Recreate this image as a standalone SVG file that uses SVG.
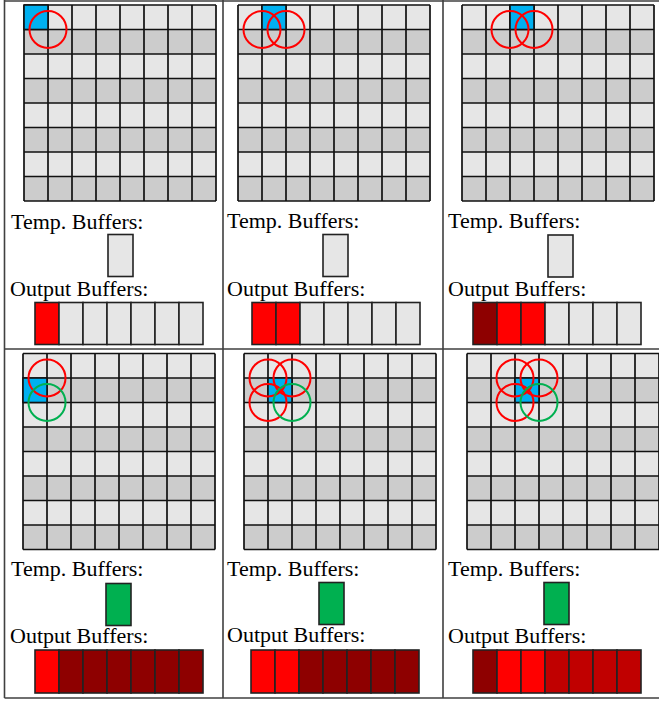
<svg xmlns="http://www.w3.org/2000/svg" xmlns:xlink="http://www.w3.org/1999/xlink" width="659" height="703" viewBox="0 0 659 703">
<style>
.lbl{font-family:"Liberation Serif","Times New Roman",serif;font-size:22px;fill:#000}
.frame{stroke:#404040;stroke-width:1.6;fill:none}
.blue{fill:#00b0f0;stroke:#111;stroke-width:1.6}
.rc{fill:none;stroke:#ff0000;stroke-width:2}
.gc{fill:none;stroke:#00b050;stroke-width:2}
.buf{stroke:#222;stroke-width:1.6}
.g{fill:#e6e6e6}
.r{fill:#ff0000}
.d{fill:#8e0000}
.m{fill:#c00000}
.gr{fill:#00b050}
</style>
<defs>
<g id="grid">
<rect x="0" y="0" width="192" height="24.5" fill="#e6e6e6"/>
<rect x="0" y="24.5" width="192" height="24.5" fill="#cccccc"/>
<rect x="0" y="49" width="192" height="24.5" fill="#e6e6e6"/>
<rect x="0" y="73.5" width="192" height="24.5" fill="#cccccc"/>
<rect x="0" y="98" width="192" height="24.5" fill="#e6e6e6"/>
<rect x="0" y="122.5" width="192" height="24.5" fill="#cccccc"/>
<rect x="0" y="147" width="192" height="24.5" fill="#e6e6e6"/>
<rect x="0" y="171.5" width="192" height="24.5" fill="#cccccc"/>
<path d="M0 0V196M24 0V196M48 0V196M72 0V196M96 0V196M120 0V196M144 0V196M168 0V196M192 0V196M0 0H192M0 24.5H192M0 49H192M0 73.5H192M0 98H192M0 122.5H192M0 147H192M0 171.5H192M0 196H192" stroke="#111" stroke-width="1.7" fill="none"/>
</g>
</defs>

<g id="frame">
<path class="frame" d="M4.5 1H659" stroke="#aaaaaa"/>
<path class="frame" d="M4.5 0V698M223 0V698M443 0V698M4.5 349H659M4.5 698H659"/>
</g>

<g id="panel-top-left">
<use href="#grid" x="24" y="5"/>
<rect class="blue" x="24" y="5" width="24" height="24.5"/>
<circle class="rc" cx="48" cy="29.5" r="18.5"/>
<text class="lbl" x="11" y="229">Temp. Buffers:</text>
<rect class="buf g" x="108" y="234.5" width="25" height="42"/>
<text class="lbl" x="10" y="296">Output Buffers:</text>
<g class="buf">
<rect class="r" x="35" y="302.5" width="24" height="42"/>
<rect class="g" x="59" y="302.5" width="24" height="42"/>
<rect class="g" x="83" y="302.5" width="24" height="42"/>
<rect class="g" x="107" y="302.5" width="24" height="42"/>
<rect class="g" x="131" y="302.5" width="24" height="42"/>
<rect class="g" x="155" y="302.5" width="24" height="42"/>
<rect class="g" x="179" y="302.5" width="24" height="42"/>
</g>
</g>

<g id="panel-top-middle">
<use href="#grid" x="238" y="5"/>
<rect class="blue" x="262" y="5" width="24" height="24.5"/>
<circle class="rc" cx="262" cy="29.5" r="18.5"/>
<circle class="rc" cx="286" cy="29.5" r="18.5"/>
<text class="lbl" x="227" y="228">Temp. Buffers:</text>
<rect class="buf g" x="323" y="234.5" width="25" height="42"/>
<text class="lbl" x="227" y="296">Output Buffers:</text>
<g class="buf">
<rect class="r" x="252" y="302.5" width="24" height="42"/>
<rect class="r" x="276" y="302.5" width="24" height="42"/>
<rect class="g" x="300" y="302.5" width="24" height="42"/>
<rect class="g" x="324" y="302.5" width="24" height="42"/>
<rect class="g" x="348" y="302.5" width="24" height="42"/>
<rect class="g" x="372" y="302.5" width="24" height="42"/>
<rect class="g" x="396" y="302.5" width="24" height="42"/>
</g>
</g>

<g id="panel-top-right">
<use href="#grid" x="462" y="5"/>
<rect class="blue" x="510" y="5" width="24" height="24.5"/>
<circle class="rc" cx="510" cy="29.5" r="18.5"/>
<circle class="rc" cx="534" cy="29.5" r="18.5"/>
<text class="lbl" x="448" y="228">Temp. Buffers:</text>
<rect class="buf g" x="548" y="235" width="25" height="42"/>
<text class="lbl" x="448" y="296">Output Buffers:</text>
<g class="buf">
<rect class="d" x="473" y="302.5" width="24" height="42"/>
<rect class="r" x="497" y="302.5" width="24" height="42"/>
<rect class="r" x="521" y="302.5" width="24" height="42"/>
<rect class="g" x="545" y="302.5" width="24" height="42"/>
<rect class="g" x="569" y="302.5" width="24" height="42"/>
<rect class="g" x="593" y="302.5" width="24" height="42"/>
<rect class="g" x="617" y="302.5" width="24" height="42"/>
</g>
</g>

<g id="panel-bottom-left">
<use href="#grid" x="23" y="353.5"/>
<rect class="blue" x="23" y="378" width="24" height="24.5"/>
<circle class="rc" cx="47" cy="378" r="18.5"/>
<circle class="gc" cx="47" cy="402.5" r="18.5"/>
<text class="lbl" x="11" y="576">Temp. Buffers:</text>
<rect class="buf gr" x="106" y="583.5" width="25" height="42"/>
<text class="lbl" x="10" y="643">Output Buffers:</text>
<g class="buf">
<rect class="r" x="35" y="650" width="24" height="43"/>
<rect class="d" x="59" y="650" width="24" height="43"/>
<rect class="d" x="83" y="650" width="24" height="43"/>
<rect class="d" x="107" y="650" width="24" height="43"/>
<rect class="d" x="131" y="650" width="24" height="43"/>
<rect class="d" x="155" y="650" width="24" height="43"/>
<rect class="d" x="179" y="650" width="24" height="43"/>
</g>
</g>

<g id="panel-bottom-middle">
<use href="#grid" x="244" y="353.5"/>
<rect class="blue" x="268" y="378" width="24" height="24.5"/>
<circle class="rc" cx="268" cy="378" r="18.5"/>
<circle class="rc" cx="292" cy="378" r="18.5"/>
<circle class="rc" cx="268" cy="402.5" r="18.5"/>
<circle class="gc" cx="292" cy="402.5" r="18.5"/>
<text class="lbl" x="227" y="576">Temp. Buffers:</text>
<rect class="buf gr" x="319" y="582.5" width="25" height="42"/>
<text class="lbl" x="227" y="642">Output Buffers:</text>
<g class="buf">
<rect class="r" x="251" y="650" width="24" height="43"/>
<rect class="r" x="275" y="650" width="24" height="43"/>
<rect class="d" x="299" y="650" width="24" height="43"/>
<rect class="d" x="323" y="650" width="24" height="43"/>
<rect class="d" x="347" y="650" width="24" height="43"/>
<rect class="d" x="371" y="650" width="24" height="43"/>
<rect class="d" x="395" y="650" width="24" height="43"/>
</g>
</g>

<g id="panel-bottom-right">
<use href="#grid" x="467" y="353.5"/>
<rect class="blue" x="515" y="378" width="24" height="24.5"/>
<circle class="rc" cx="515" cy="378" r="18.5"/>
<circle class="rc" cx="539" cy="378" r="18.5"/>
<circle class="rc" cx="515" cy="402.5" r="18.5"/>
<circle class="gc" cx="539" cy="402.5" r="18.5"/>
<text class="lbl" x="448" y="576">Temp. Buffers:</text>
<rect class="buf gr" x="544" y="582.5" width="25" height="42"/>
<text class="lbl" x="448" y="643">Output Buffers:</text>
<g class="buf">
<rect class="d" x="473" y="650" width="24" height="43"/>
<rect class="r" x="497" y="650" width="24" height="43"/>
<rect class="r" x="521" y="650" width="24" height="43"/>
<rect class="m" x="545" y="650" width="24" height="43"/>
<rect class="m" x="569" y="650" width="24" height="43"/>
<rect class="m" x="593" y="650" width="24" height="43"/>
<rect class="m" x="617" y="650" width="24" height="43"/>
</g>
</g>
</svg>
